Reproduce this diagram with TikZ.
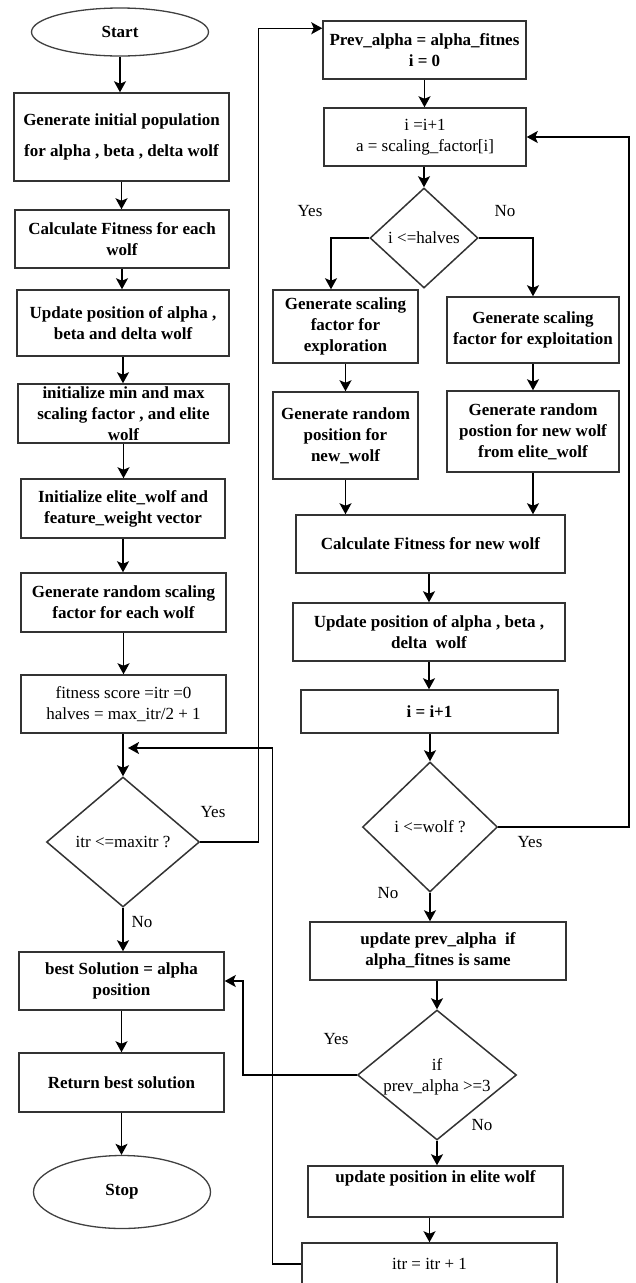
\documentclass[tikz,border=0pt]{standalone}
\usepackage{fontspec}
\setmainfont{Liberation Serif}
\usetikzlibrary{shapes.geometric,arrows.meta,calc}
\begin{document}
\begin{tikzpicture}[x=1pt,y=-1pt,
  font=\fontsize{17}{21}\selectfont\bfseries,
  box/.style={draw=black!80,line width=1.5pt,rectangle,align=center,inner sep=0pt},
  term/.style={draw=black!75,line width=1.3pt,ellipse,inner sep=0pt},
  dia/.style={draw=black!80,line width=1.5pt,diamond,inner sep=0pt},
  reg/.style={font=\fontsize{17}{21}\selectfont\mdseries},
  arr/.style={line width=1.5pt,-{Stealth[length=11pt,width=12pt,inset=2.5pt]}},
  lbl/.style={inner sep=0pt,font=\fontsize{17}{21}\selectfont\mdseries}
]
\useasboundingbox (0,0) rectangle (635,1283);

% ---------- left column ----------
\node[term,minimum width=177pt,minimum height=48pt] (start) at (120,32) {Start};
\node[box,minimum width=215pt,minimum height=88pt] (b1) at (121.5,137) {Generate initial population\\[10pt]for alpha , beta , delta wolf};
\node[box,minimum width=214pt,minimum height=58pt] (b2) at (122,239) {Calculate Fitness for each\\wolf};
\node[box,minimum width=212pt,minimum height=66pt] (b3) at (123,323) {Update position of alpha ,\\beta and delta wolf};
\node[box,minimum width=211pt,minimum height=59pt] (b4) at (123.5,413.5) {initialize min and max\\scaling factor , and elite\\wolf};
\node[box,minimum width=204pt,minimum height=59pt] (b5) at (123,508.5) {Initialize elite\_wolf and\\feature\_weight vector};
\node[box,minimum width=205pt,minimum height=59pt] (b6) at (123.5,602.5) {Generate random scaling\\factor for each wolf};
\node[box,reg,minimum width=205pt,minimum height=58pt] (b7) at (123.5,704) {fitness score =itr =0\\halves = max\_itr/2 + 1};
\node[dia,minimum width=153pt,minimum height=130pt] (d1) at (123,842) {};
\node[reg,inner sep=0pt] (d1t) at (d1) {itr <=maxitr ?};
\node[box,minimum width=205pt,minimum height=58pt] (b8) at (121.5,981) {best Solution = alpha\\position};
\node[box,minimum width=205pt,minimum height=59pt] (b9) at (121.5,1082.5) {Return best solution};
\node[term,minimum width=177pt,minimum height=73pt] (stop) at (122,1192) {Stop};

% ---------- right column ----------
\node[box,minimum width=203pt,minimum height=58pt] (r1) at (424.5,50) {Prev\_alpha = alpha\_fitnes\\i = 0};
\node[box,reg,minimum width=202pt,minimum height=58pt] (r2) at (425,137) {i =i+1\\a = scaling\_factor[i]};
\node[dia,minimum width=108pt,minimum height=100pt] (d2) at (424,238) {};
\node[reg,inner sep=0pt] (d2t) at (d2) {i <=halves};
\node[box,minimum width=145pt,minimum height=73pt] (r3) at (345.5,326.5) {Generate scaling\\factor for\\exploration};
\node[box,minimum width=172pt,minimum height=66pt] (r4) at (533,330) {Generate scaling\\factor for exploitation};
\node[box,minimum width=145pt,minimum height=87pt] (r5) at (345.5,435.5) {Generate random\\position for\\new\_wolf};
\node[box,minimum width=172pt,minimum height=81pt] (r6) at (533,431.5) {Generate random\\postion for new wolf\\from elite\_wolf};
\node[box,minimum width=269pt,minimum height=58pt] (r7) at (430.5,544) {Calculate Fitness for new wolf};
\node[box,minimum width=272pt,minimum height=58pt] (r8) at (429,632) {Update position of alpha , beta ,\\delta\ \ wolf};
\node[box,minimum width=257pt,minimum height=43pt] (r9) at (429.5,711.5) {i = i+1};
\node[dia,minimum width=135pt,minimum height=130pt] (d3) at (430,827) {};
\node[reg,inner sep=0pt] (d3t) at (d3) {i <=wolf ?};
\node[box,minimum width=256pt,minimum height=58pt] (r10) at (438,951) {update prev\_alpha\ \ if\\alpha\_fitnes is same};
\node[dia,minimum width=159pt,minimum height=130pt] (d4) at (437,1075) {};
\node[reg,inner sep=0pt,align=center] (d4t) at (437,1077) {if\\prev\_alpha >=3};
\node[box,minimum width=255pt,minimum height=51pt] (r11) at (435.5,1191.5) {update position in elite wolf\\[8pt]~};
\node[box,reg,minimum width=255pt,minimum height=42pt] (r12) at (429.5,1264) {itr = itr + 1};

% ---------- labels ----------
\node[lbl] (y1) at (213,812) {Yes};
\node[lbl] (n1) at (142,922) {No};
\node[lbl] (y2) at (310,211) {Yes};
\node[lbl] (n2) at (505,211) {No};
\node[lbl] (y3) at (530,842) {Yes};
\node[lbl] (n3) at (388,893) {No};
\node[lbl] (y4) at (336,1039) {Yes};
\node[lbl] (n4) at (482,1125) {No};

% ---------- left connectors ----------
\draw[arr] (start.south) -- (start.south |- b1.north);
\draw[arr] (b1.south) -- (b1.south |- b2.north);
\draw[arr] (b2.south) -- (b2.south |- b3.north);
\draw[arr] (b3.south) -- (b3.south |- b4.north);
\draw[arr] (b4.south) -- (b4.south |- b5.north);
\draw[arr] (b5.south) -- (b5.south |- b6.north);
\draw[arr] (b6.south) -- (b6.south |- b7.north);
\draw[arr] (b7.south -| d1.north) -- (d1.north);
\draw[arr] (d1.south) -- (d1.south |- b8.north);
\draw[arr] (b8.south) -- (b8.south |- b9.north);
\draw[arr] (b9.south) -- (b9.south |- stop.north);
\draw[arr] (d1.east) -- ++(58,0) |- ([yshift=-8pt]r1.north west);

% ---------- right connectors ----------
\draw[arr] (r1.south) -- (r1.south |- r2.north);
\draw[arr] (r2.south -| d2.north) -- (d2.north);
\draw[arr] (d2.west) -| ($(r3.north)+(-14.5,0)$);
\draw[arr] (d2.east) -| (r4.north);
\draw[arr] (r3.south) -- (r3.south |- r5.north);
\draw[arr] (r4.south) -- (r4.south |- r6.north);
\draw[arr] (r5.south) -- (r5.south |- r7.north);
\draw[arr] (r6.south) -- (r6.south |- r7.north);
\draw[arr] (r7.south -| r8.north) -- (r8.north);
\draw[arr] (r8.south) -- (r8.south |- r9.north);
\draw[arr] (r9.south -| d3.north) -- (d3.north);
\draw[arr] (d3.east) -- ++(130.5,0) |- (r2.east);
\draw[arr] (d3.south) -- (d3.south |- r10.north);
\draw[arr] (r10.south -| d4.north) -- (d4.north);
\draw[arr] (d4.west) -- ++(-114,0) |- (b8.east);
\draw[arr] (d4.south) -- (d4.south |- r11.north);
\draw[arr] (r11.south -| r12.north) -- (r12.north);
\coordinate (jn) at (128,748);
\draw[arr] (r12.west) -- ++(-29,0) |- (jn);
\end{tikzpicture}
\end{document}
